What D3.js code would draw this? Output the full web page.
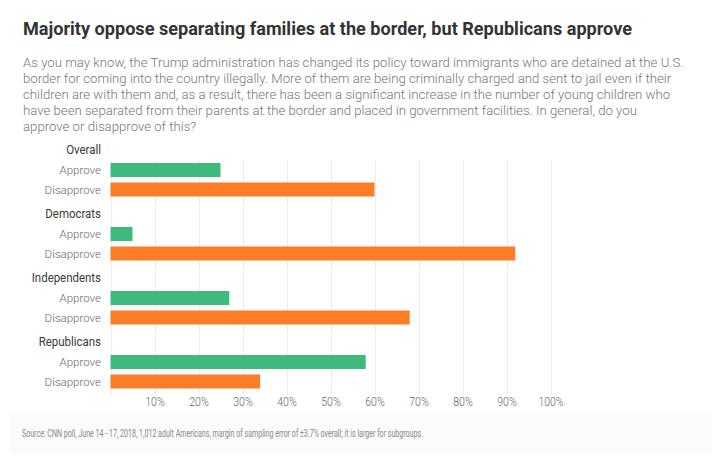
<!DOCTYPE html>
<html><head><meta charset="utf-8">
<script src="https://cdn.jsdelivr.net/npm/d3@7"></script>
<style>
html,body{margin:0;padding:0;background:#fff;}
svg{display:block;}
</style></head>
<body>
<svg id="chart" width="712" height="466"></svg>
<script>
const title = "Majority oppose separating families at the border, but Republicans approve";
const subtitleLines = [
  "As you may know, the Trump administration has changed its policy toward immigrants who are detained at the U.S.",
  "border for coming into the country illegally. More of them are being criminally charged and sent to jail even if their",
  "children are with them and, as a result, there has been a significant increase in the number of young children who",
  "have been separated from their parents at the border and placed in government facilities. In general, do you",
  "approve or disapprove of this?"
];
const groups = ["Overall", "Democrats", "Independents", "Republicans"];
const responses = ["Approve", "Disapprove"];
const approve = [25, 5, 27, 58];
const disapprove = [60, 92, 68, 34];
const tickValues = [10, 20, 30, 40, 50, 60, 70, 80, 90, 100];
const source = "Source: CNN poll, June 14 - 17, 2018, 1,012 adult Americans, margin of sampling error of \u00b13.7% overall; it is larger for subgroups.";

const colors = {Approve: "#3dba7c", Disapprove: "#fd7e26"};
const svg = d3.select("#chart");
const FONT = "Roboto, 'Noto Sans', sans-serif";

function condense(sel, factor) {
  sel.each(function() {
    const w = this.getComputedTextLength();
    d3.select(this).attr("textLength", w * factor).attr("lengthAdjust", "spacingAndGlyphs");
  });
}

// Title
svg.append("text")
  .attr("x", 23).attr("y", 35)
  .attr("font-family", FONT)
  .attr("font-weight", "bold")
  .attr("font-size", 19)
  .attr("fill", "#333")
  .text(title)
  .call(sel => sel.each(function() {
    const w = this.getComputedTextLength();
    d3.select(this).attr("textLength", Math.min(w, 609)).attr("lengthAdjust", "spacingAndGlyphs");
  }));

// Subtitle
svg.append("g").selectAll("text").data(subtitleLines).join("text")
  .attr("x", 23).attr("y", (d, i) => 67 + i * 16)
  .attr("font-family", FONT)
  .attr("font-weight", 300)
  .attr("font-size", 13.2)
  .attr("fill", "#777")
  .text(d => d);

// Scales
const x = d3.scaleLinear().domain([0, 100]).range([110.5, 550.5]);
const gy = d3.scaleBand().domain(groups).range([163, 163 + 64 * 4]).paddingInner(0).paddingOuter(0);

// gridlines
svg.append("g").selectAll("line").data([0].concat(tickValues)).join("line")
  .attr("x1", d => Math.round(x(d)) + 0.5).attr("x2", d => Math.round(x(d)) + 0.5)
  .attr("y1", 160).attr("y2", 395)
  .attr("stroke", "#ececec").attr("stroke-width", 1);

// axis
const axis = d3.axisBottom(x).tickValues(tickValues).tickFormat(d => d + "%").tickSize(0).tickPadding(0);
const ax = svg.append("g").attr("transform", "translate(0,397)").call(axis);
ax.select(".domain").remove();
ax.selectAll("text")
  .attr("dy", "0.71em")
  .attr("font-family", FONT)
  .attr("font-weight", 300)
  .attr("font-size", 12.5)
  .attr("fill", "#666")
  .call(condense, 0.84);

// groups
const barH = 14, rowStep = 19.5;
const rows = [];
groups.forEach((g, i) => {
  rows.push({group: g, resp: "Approve", value: approve[i], k: 0});
  rows.push({group: g, resp: "Disapprove", value: disapprove[i], k: 1});
});

svg.append("g").selectAll("text").data(groups).join("text")
  .attr("x", 101).attr("y", d => gy(d) - 14)
  .attr("dy", "0.35em")
  .attr("text-anchor", "end")
  .attr("font-family", FONT)
  .attr("font-size", 13)
  .attr("fill", "#3a3a3a")
  .text(d => d)
  .call(condense, 0.88);

svg.append("g").selectAll("rect").data(rows).join("rect")
  .attr("x", x(0))
  .attr("y", d => gy(d.group) + d.k * rowStep)
  .attr("width", d => x(d.value) - x(0))
  .attr("height", barH)
  .attr("fill", d => colors[d.resp]);

svg.append("g").selectAll("text").data(rows).join("text")
  .attr("x", 101).attr("y", d => gy(d.group) + d.k * rowStep + barH / 2)
  .attr("dy", "0.35em")
  .attr("text-anchor", "end")
  .attr("font-family", FONT)
  .attr("font-weight", 300)
  .attr("font-size", 11.5)
  .attr("fill", "#666")
  .text(d => d.resp);

// footer
svg.append("rect").attr("x", 10).attr("y", 413).attr("width", 702).attr("height", 40).attr("fill", "#fbfbfb");
svg.append("text")
  .attr("x", 22).attr("y", 436.5)
  .attr("font-family", FONT)
  .attr("font-size", 10.5)
  .attr("fill", "#888")
  .text(source)
  .call(sel => sel.each(function() {
    d3.select(this).attr("textLength", 401).attr("lengthAdjust", "spacingAndGlyphs");
  }));
</script>
</body></html>
